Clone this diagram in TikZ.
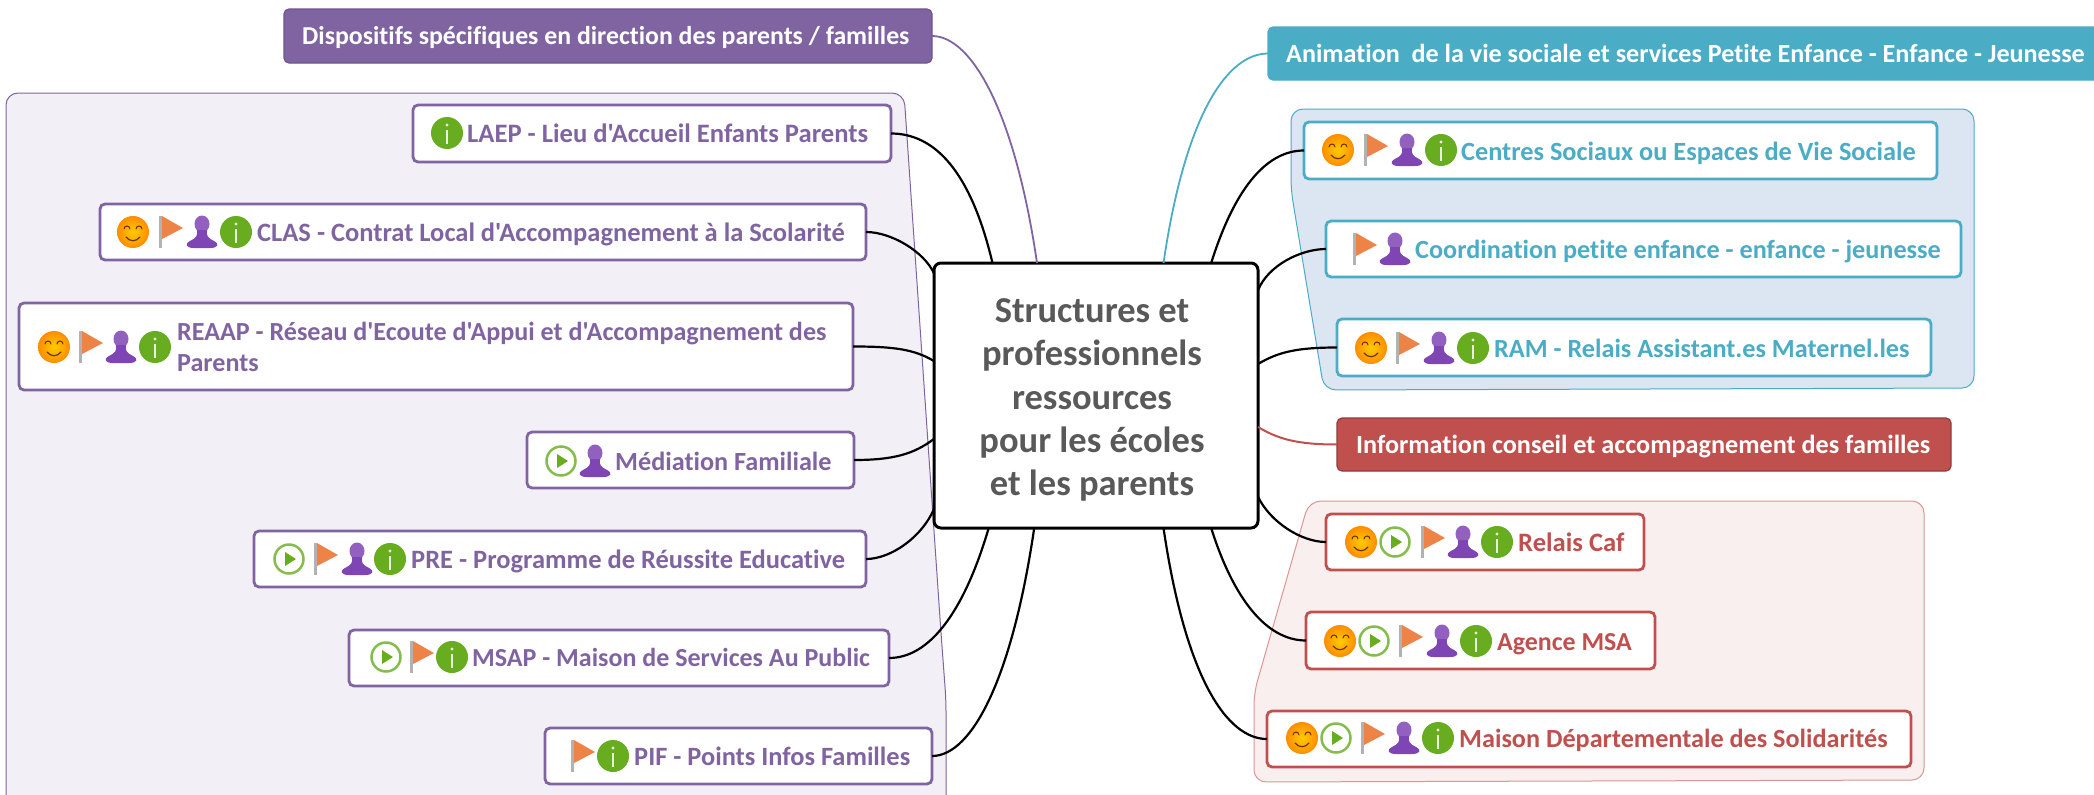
\documentclass[tikz,border=0pt]{standalone}
\usepackage{fontspec}
\setmainfont{Carlito}[Ligatures={TeXOff,NoCommon}]
\definecolor{mmP}{HTML}{8064A2}
\definecolor{mmB}{HTML}{4BACC6}
\definecolor{mmR}{HTML}{C0504D}
\definecolor{grpP}{HTML}{F2F0F6}
\definecolor{grpB}{HTML}{DCE6F2}
\definecolor{grpR}{HTML}{F9EFEE}
\definecolor{icoG}{HTML}{67AD1F}
\definecolor{icoO}{HTML}{EE8348}
\definecolor{icoV}{HTML}{7F45B5}
\definecolor{centre}{HTML}{595959}
\tikzset{
  x=1pt,y=-1pt,
  boxbase/.style={draw,rounded corners=5pt,inner sep=0pt,outer sep=0pt,line width=2.8pt,fill=white},
  boxP/.style={boxbase,draw=mmP},
  boxB/.style={boxbase,draw=mmB},
  boxR/.style={boxbase,draw=mmR},
  headP/.style={boxbase,fill=mmP,draw=mmP!85!black,line width=1.2pt},
  headB/.style={boxbase,fill=mmB,draw=mmB,line width=1.2pt},
  headR/.style={boxbase,fill=mmR,draw=mmR!75!black,line width=1.2pt},
  fs/.style={inner sep=0pt,font=\bfseries\fontsize{#1}{31}\selectfont},
  txtP/.style={text=mmP,anchor=base west},
  txtB/.style={text=mmB,anchor=base west},
  txtR/.style={text=mmR,anchor=base west},
  txtW/.style={text=white,anchor=base west},
  grp/.style={rounded corners=12pt,line width=1pt},
  link/.style={black,line width=2.2pt},
  linkP/.style={mmP,line width=1.8pt},
  linkB/.style={mmB,line width=1.8pt},
  linkR/.style={mmR,line width=2pt},
  iconsmile/.pic={
    \shade[inner color=yellow!60!orange,outer color=orange!90!yellow] (0,0) circle[radius=16];
    \draw[black!60!orange,line width=1pt,line cap=round] (-9,-3) arc[start angle=180,end angle=360,radius=3];
    \draw[black!60!orange,line width=1pt,line cap=round] (3,-3) arc[start angle=180,end angle=360,radius=3];
    \draw[black!60!orange,line width=1.2pt,line cap=round] (-7,5) .. controls (-3,10) and (3,10) .. (7,5);
  },
  iconflag/.pic={
    \fill[black!30] (-12,-16) rectangle (-9,16);
    \fill[icoO] (-9,-16) -- (12,-4) -- (-9,7) -- cycle;
  },
  iconperson/.pic={
    \fill[icoV!85!white] (0,-8) ellipse[x radius=7.5,y radius=8.5];
    \fill[icoV] (-5,-2) .. controls (-4,4) and (-6,6) .. (-12,9) .. controls (-18,12) and (-16,16) .. (-8,16) -- (8,16) .. controls (16,16) and (18,12) .. (12,9) .. controls (6,6) and (4,4) .. (5,-2) -- cycle;
  },
  iconinfo/.pic={
    \fill[icoG] (0,0) circle[radius=16];
    \fill[white!85!icoG] (-1.2,-3) rectangle (1.2,11);
    \fill[white!85!icoG] (0,-8) circle[radius=1.6];
  },
  iconplay/.pic={
    \draw[icoG!80!white,line width=2.5pt,fill=white] (0,0) circle[radius=14.5];
    \fill[icoG] (-4,-7) -- (7,0) -- (-4,7) -- cycle;
  },
}
\newcommand{\mmbox}[6]{%
  \pgfmathsetmacro{\mmcx}{(#3+#5)/2}\pgfmathsetmacro{\mmcy}{(#4+#6)/2}%
  \pgfmathsetmacro{\mmw}{#5-#3}\pgfmathsetmacro{\mmh}{#6-#4}%
  \node[#1,minimum width=\mmw pt,minimum height=\mmh pt] (#2) at (\mmcx,\mmcy) {};}
\begin{document}
\begin{tikzpicture}
\useasboundingbox (0,0) rectangle (2094,795);
\fill[white] (0,0) rectangle (2094,795);
% groups
\draw[grp,draw=mmP,fill=grpP] (6,93) -- (904,93) -- (941,633) -- (946,700) -- (946,810) -- (6,810) -- cycle;
\draw[grp,draw=mmB,fill=grpB] (1291,109) -- (1974,109) -- (1974,388) -- (1324,390) -- (1291,190) -- cycle;
\draw[grp,draw=mmR!60!white,fill=grpR] (1309,501) -- (1924,501) -- (1924,780) -- (1254,782) -- (1254,693) -- cycle;
% centre
\node[draw=black,fill=white,line width=3pt,rounded corners=7pt,minimum width=324pt,minimum height=265pt,inner sep=0pt,outer sep=0pt] (centre) at (1096,395.5) {};
\node[align=center,text=centre,inner sep=0pt,font=\bfseries\fontsize{36.5}{43.4}\selectfont] (centret) at (1092,400)
  {Structures et\\professionnels\\ressources\\pour les écoles\\ et les parents};
% heads
\mmbox{headP}{dispo}{284}{9}{932}{63}
\node[txtW,fs=25.8] (dispot) at (302,44) {Dispositifs spécifiques en direction des parents / familles};
\mmbox{headB}{anim}{1268}{27}{2110}{80}
\node[txtW,fs=26.1] (animt) at (1286,62) {Animation\ \ de la vie sociale et services Petite Enfance - Enfance - Jeunesse};
\mmbox{headR}{info}{1337}{418}{1951}{471}
\node[txtW,fs=26.2] (infot) at (1356,453) {Information conseil et accompagnement des familles};
% left children
\mmbox{boxP}{laep}{413}{105}{891}{162}
\pic at (447,133) {iconinfo};
\node[txtP,fs=26.6] (laept) at (467,142) {LAEP - Lieu d'Accueil Enfants Parents};
\mmbox{boxP}{clas}{100}{204}{866}{260}
\pic at (133,232) {iconsmile};\pic at (171,232) {iconflag};\pic at (202,232) {iconperson};\pic at (236,232) {iconinfo};
\node[txtP,fs=26.5] (clast) at (257,241) {CLAS - Contrat Local d'Accompagnement à la Scolarité};
\mmbox{boxP}{reaap}{19}{303}{853}{390}
\pic at (54,347) {iconsmile};\pic at (91,347) {iconflag};\pic at (121,347) {iconperson};\pic at (155,347) {iconinfo};
\node[txtP,anchor=west,align=left,fs=26.1] (reaapt) at (177,347)
  {REAAP - Réseau d'Ecoute d'Appui et d'Accompagnement des\\Parents};
\mmbox{boxP}{media}{527}{432}{854}{488}
\pic at (561,461) {iconplay};\pic at (595,461) {iconperson};
\node[txtP,fs=26.2] (mediat) at (615,470) {Médiation Familiale};
\mmbox{boxP}{pre}{254}{531}{866}{587}
\pic at (289,559) {iconplay};\pic at (326,559) {iconflag};\pic at (357,559) {iconperson};\pic at (390,559) {iconinfo};
\node[txtP,fs=26.5] (pret) at (411,568) {PRE - Programme de Réussite Educative};
\mmbox{boxP}{msap}{349}{630}{889}{686}
\pic at (386,657) {iconplay};\pic at (422,657) {iconflag};\pic at (452,657) {iconinfo};
\node[txtP,fs=26] (msapt) at (472,666) {MSAP - Maison de Services Au Public};
\mmbox{boxP}{pif}{545}{728}{932}{784}
\pic at (583,756) {iconflag};\pic at (613,756) {iconinfo};
\node[txtP,fs=26.4] (pift) at (634,765) {PIF - Points Infos Familles};
% right children
\mmbox{boxB}{centres}{1304}{122}{1937}{179}
\pic at (1338,150) {iconsmile};\pic at (1376,150) {iconflag};\pic at (1407,150) {iconperson};\pic at (1441,150) {iconinfo};
\node[txtB,fs=26.3] (centrest) at (1461,160) {Centres Sociaux ou Espaces de Vie Sociale};
\mmbox{boxB}{coord}{1326}{221}{1961}{277}
\pic at (1365,249) {iconflag};\pic at (1395,249) {iconperson};
\node[txtB,fs=26.2] (coordt) at (1415,258) {Coordination petite enfance - enfance - jeunesse};
\mmbox{boxB}{ram}{1337}{319}{1931}{376}
\pic at (1371,348) {iconsmile};\pic at (1408,348) {iconflag};\pic at (1439,348) {iconperson};\pic at (1473,348) {iconinfo};
\node[txtB,fs=26.2] (ramt) at (1494,357) {RAM - Relais Assistant.es Maternel.les};
\mmbox{boxR}{relais}{1326}{514}{1644}{570}
\pic at (1361,542) {iconsmile};\pic at (1395,542) {iconplay};\pic at (1433,542) {iconflag};\pic at (1463,542) {iconperson};\pic at (1497,542) {iconinfo};
\node[txtR,fs=26.6] (relaist) at (1518,551) {Relais Caf};
\mmbox{boxR}{agence}{1306}{612}{1655}{669}
\pic at (1340,641) {iconsmile};\pic at (1374,641) {iconplay};\pic at (1411,641) {iconflag};\pic at (1442,641) {iconperson};\pic at (1476,641) {iconinfo};
\node[txtR,fs=25.9] (agencet) at (1497,650) {Agence MSA};
\mmbox{boxR}{maison}{1267}{711}{1911}{767}
\pic at (1302,738) {iconsmile};\pic at (1336,738) {iconplay};\pic at (1373,738) {iconflag};\pic at (1404,738) {iconperson};\pic at (1438,738) {iconinfo};
\node[txtR,fs=26.2] (maisont) at (1459,747) {Maison Départementale des Solidarités};
% connectors
\draw[linkP] (dispo.east) .. controls +(40,0) and +(-22,-150) .. (centre.114.72);
\draw[link] (laep.east) .. controls +(43,0) and +(-22,-93) .. (centre.128.13);
\draw[link] (clas.east) .. controls +(25,0) and +(-10,-22) .. (centre.143.82);
\draw[link] (reaap.east) .. controls +(40,0) and +(-20,-12) .. (centre.168.32);
\draw[link] (media.east) .. controls +(40,0) and +(-20,15) .. (centre.195.36);
\draw[link] (pre.east) .. controls +(25,0) and +(-12,28) .. (centre.215.95);
\draw[link] (msap.east) .. controls +(40,0) and +(-25,85) .. (centre.231.87);
\draw[link] (pif.east) .. controls +(40,0) and +(-22,150) .. (centre.245.28);
\draw[linkB] (anim.west) .. controls +(-40,0) and +(22,-150) .. (centre.63.52);
\draw[link] (centres.west) .. controls +(-40,0) and +(22,-70) .. (centre.49.8);
\draw[link] (coord.west) .. controls +(-25,0) and +(10,-25) .. (centre.33.07);
\draw[link] (ram.west) .. controls +(-40,0) and +(20,-12) .. (centre.11.34);
\draw[linkR] (info.west) .. controls +(-40,0) and +(20,12) .. (centre.-11.34);
\draw[link] (relais.west) .. controls +(-25,0) and +(12,25) .. (centre.-32.32);
\draw[link] (agence.west) .. controls +(-40,0) and +(22,70) .. (centre.-49.8);
\draw[link] (maison.west) .. controls +(-40,0) and +(22,150) .. (centre.-63.52);
\end{tikzpicture}
\end{document}
